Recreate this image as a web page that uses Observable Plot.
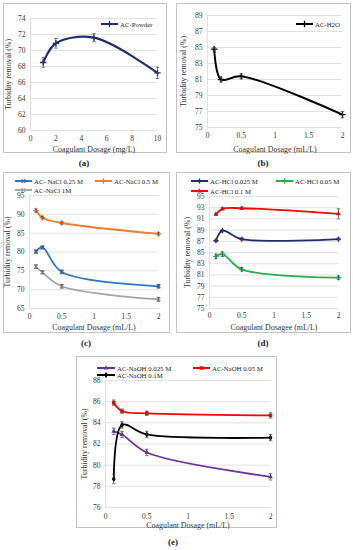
<!DOCTYPE html>
<html><head><meta charset="utf-8">
<script src="https://cdn.jsdelivr.net/npm/d3@7"></script>
<script src="https://cdn.jsdelivr.net/npm/@observablehq/plot@0.6"></script>
<style>
html,body{margin:0;padding:0;background:#fff;}
#root{position:relative;width:353px;height:550px;overflow:hidden;font-family:"Liberation Serif",serif;color:#222;}
.box{position:absolute;border:1px solid #c4c4c4;box-sizing:border-box;}
.cap{position:absolute;font-size:9px;font-weight:bold;transform:translate(-50%,-50%);white-space:nowrap;}
.leg{position:absolute;display:flex;align-items:center;font-size:6.8px;white-space:nowrap;transform:translateY(-50%);}
.leg svg{display:block;margin-right:2px;}
.plot{position:absolute;}
.plot g[aria-label$="axis label"]{font-size:7.9px;}
</style></head><body><div id="root"></div>
<script>
// ---------- data ----------
const doseMg = [1, 2, 5, 10];
const acPowder = [68.5, 70.9, 71.6, 67.2];
const acPowderErr = [0.6, 0.6, 0.5, 0.7];

const doseMl = [0.1, 0.2, 0.5, 2];
const acH2O = [84.8, 81.0, 81.4, 76.6];
const acH2OErr = [0.2, 0.3, 0.3, 0.4];

const nacl025 = [80.1, 81.2, 74.7, 70.9];
const nacl05 = [91.0, 89.1, 87.7, 84.8];
const nacl1 = [76.1, 74.6, 70.9, 67.4];
const nacl025Err = [0.4, 0.4, 0.5, 0.5];
const nacl05Err = [0.4, 0.3, 0.3, 0.3];
const nacl1Err = [0.5, 0.4, 0.5, 0.5];

const hcl0025 = [87.1, 88.9, 87.4, 87.4];
const hcl005 = [84.3, 84.7, 82.0, 80.5];
const hcl01 = [91.8, 92.8, 92.9, 91.9];
const hcl0025Err = [0.2, 0.2, 0.2, 0.2];
const hcl005Err = [0.4, 0.4, 0.3, 0.3];
const hcl01Err = [0.2, 0.2, 0.2, 0.9];

const naoh0025 = [83.2, 82.9, 81.2, 78.9];
const naoh005 = [85.9, 85.1, 84.9, 84.7];
const naoh01 = [78.7, 83.8, 82.9, 82.6];
const naoh0025Err = [0.3, 0.3, 0.3, 0.3];
const naoh005Err = [0.25, 0.2, 0.2, 0.25];
const naoh01Err = [0.45, 0.3, 0.3, 0.3];

// ---------- tick labels ----------
const xTicksMg = [0, 2, 4, 6, 8, 10];
const xTicksMl = [0, 0.5, 1, 1.5, 2];
const yTicksA = [60, 62, 64, 66, 68, 70, 72, 74];
const yTicksB = [75, 77, 79, 81, 83, 85, 87, 89];
const yTicksC = [65, 70, 75, 80, 85, 90, 95];
const yTicksD = [75, 77, 79, 81, 83, 85, 87, 89, 91, 93, 95];
const yTicksE = [76, 78, 80, 82, 84, 86, 88];

const yLabel = "Turbidity removal (%)";

// ---------- helpers ----------
const root = document.getElementById("root");
const fmt = d => String(d);
const capSymbol = {draw(ctx, size) { const w = Math.sqrt(size) / 2; ctx.moveTo(-w, 0); ctx.lineTo(w, 0); }};
const strokeSyms = new Set(["plus", "times"]);
const d3Sym = {plus: d3.symbolPlus, times: d3.symbolTimes, square: d3.symbolSquare, triangle: d3.symbolTriangle, diamond: d3.symbolDiamond, circle: d3.symbolCircle};

function el(tag, cls, style, text) {
  const e = document.createElement(tag);
  if (cls) e.className = cls;
  Object.assign(e.style, style || {});
  if (text != null) e.textContent = text;
  root.appendChild(e);
  return e;
}

function legendItem(s, x1, x2, y) {
  const w = x2 - x1;
  const div = el("div", "leg", {left: x1 + "px", top: y + "px"});
  const ns = "http://www.w3.org/2000/svg";
  const svg = document.createElementNS(ns, "svg");
  svg.setAttribute("width", w); svg.setAttribute("height", 7);
  const line = document.createElementNS(ns, "line");
  line.setAttribute("x1", 0); line.setAttribute("x2", w); line.setAttribute("y1", 3.5); line.setAttribute("y2", 3.5);
  line.setAttribute("stroke", s.color); line.setAttribute("stroke-width", 2);
  svg.appendChild(line);
  const p = document.createElementNS(ns, "path");
  p.setAttribute("d", d3.symbol(d3Sym[s.symbol], Math.PI * s.r * s.r)());
  p.setAttribute("transform", `translate(${w / 2},3.5)`);
  if (strokeSyms.has(s.symbol)) { p.setAttribute("fill", "none"); p.setAttribute("stroke", s.color); p.setAttribute("stroke-width", 1.3); }
  else p.setAttribute("fill", s.color);
  svg.appendChild(p);
  div.appendChild(svg);
  div.appendChild(document.createTextNode(s.name));
}

function drawPanel(p) {
  el("div", "box", {left: p.box[0] + "px", top: p.box[1] + "px", width: p.box[2] + "px", height: p.box[3] + "px"});
  const marks = [
    Plot.ruleY(p.yTicks, {stroke: "#d9d9d9", strokeWidth: 0.8}),
    Plot.ruleX([p.xDomain[0]], {stroke: "#d9d9d9", strokeWidth: 0.8})
  ];
  for (const s of p.series) {
    const data = p.xs.map((x, i) => ({x, y: s.values[i], e: s.err[i]}));
    marks.push(Plot.line(data, {x: "x", y: "y", stroke: s.color, strokeWidth: p.lw, curve: "catmull-rom"}));
    const stroke = strokeSyms.has(s.symbol);
    marks.push(Plot.dot(data, {x: "x", y: "y", symbol: s.symbol, r: s.r,
      fill: stroke ? "none" : s.color, stroke: stroke ? s.color : "none", strokeWidth: 1.3}));
    marks.push(Plot.ruleX(data, {x: "x", y1: d => d.y - d.e, y2: d => d.y + d.e, stroke: "#444", strokeWidth: 0.7}));
    marks.push(Plot.dot(data, {x: "x", y: d => d.y + d.e, symbol: capSymbol, r: 2, fill: "none", stroke: "#444", strokeWidth: 0.7}));
    marks.push(Plot.dot(data, {x: "x", y: d => d.y - d.e, symbol: capSymbol, r: 2, fill: "none", stroke: "#444", strokeWidth: 0.7}));
  }
  const chart = Plot.plot({
    width: p.svg[2], height: p.svg[3],
    marginLeft: p.m[0], marginRight: p.m[1], marginTop: p.m[2], marginBottom: p.m[3],
    x: {domain: p.xDomain, ticks: p.xTicks, tickFormat: fmt, tickSize: 0, tickPadding: p.xPad,
        label: p.xLabel, labelAnchor: "center", labelOffset: p.xLabOff, labelArrow: "none"},
    y: {domain: p.yDomain, ticks: p.yTicks, tickFormat: fmt, tickSize: 0, tickPadding: 5,
        label: yLabel, labelAnchor: "center", labelOffset: p.yLabOff, labelArrow: "none"},
    style: {fontFamily: "Liberation Serif", fontSize: "7.5px", color: "#333", background: "transparent", overflow: "visible"},
    marks
  });
  chart.classList.add("plot");
  chart.style.left = p.svg[0] + "px";
  chart.style.top = p.svg[1] + "px";
  root.appendChild(chart);
  for (const [i, pos] of p.legend.entries()) legendItem(p.series[i], pos[0], pos[1], pos[2]);
  el("div", "cap", {left: p.cap[0] + "px", top: p.cap[1] + "px"}, p.capText);
}

// (a)
drawPanel({
  box: [3, 3, 164, 150], svg: [3, 3, 164, 150], m: [27, 10, 15, 23],
  xs: doseMg, xDomain: [0, 10], xTicks: xTicksMg, yDomain: [60, 74], yTicks: yTicksA,
  xLabel: "Coagulant Dosage (mg/L)", xPad: 5, xLabOff: 21, yLabOff: 25, lw: 2.2,
  series: [{name: "AC-Powder", values: acPowder, err: acPowderErr, color: "#1f2d6e", symbol: "plus", r: 2.2}],
  legend: [[101, 118, 24]], cap: [84, 163], capText: "(a)"
});
// (b)
drawPanel({
  box: [176, 3, 175, 150], svg: [176, 3, 175, 150], m: [31, 9, 12, 26],
  xs: doseMl, xDomain: [0, 2], xTicks: xTicksMl, yDomain: [75, 89], yTicks: yTicksB,
  xLabel: "Coagulant Dosage (mL/L)", xPad: 5.5, xLabOff: 24, yLabOff: 27, lw: 2,
  series: [{name: "AC-H2O", values: acH2O, err: acH2OErr, color: "#000", symbol: "plus", r: 2.2}],
  legend: [[296, 313, 24]], cap: [263, 163], capText: "(b)"
});
// (c)
drawPanel({
  box: [3, 172, 167, 161], svg: [3, 172, 167, 161], m: [26, 12, 23, 25],
  xs: doseMl, xDomain: [0, 2], xTicks: xTicksMl, yDomain: [65, 95], yTicks: yTicksC,
  xLabel: "Coagulant Dosage (mL/L)", xPad: 5, xLabOff: 21, yLabOff: 25, lw: 1.8,
  series: [
    {name: "AC- NaCl 0.25 M", values: nacl025, err: nacl025Err, color: "#2e75c8", symbol: "times", r: 1.8},
    {name: "AC-NaCl 0.5 M", values: nacl05, err: nacl05Err, color: "#f07c2c", symbol: "plus", r: 2},
    {name: "AC-NaCl 1M", values: nacl1, err: nacl1Err, color: "#a5a5a5", symbol: "times", r: 1.8}
  ],
  legend: [[15, 32, 181], [95, 112, 181], [15, 32, 190]], cap: [86, 343], capText: "(c)"
});
// (d)
drawPanel({
  box: [176, 172, 175, 161], svg: [176, 172, 175, 161], m: [33, 13, 24, 25],
  xs: doseMl, xDomain: [0, 2], xTicks: xTicksMl, yDomain: [75, 95], yTicks: yTicksD,
  xLabel: "Coagulant Dosagee (mL/L)", xPad: 4.5, xLabOff: 21, yLabOff: 25, lw: 1.8,
  series: [
    {name: "AC-HCl 0.025 M", values: hcl0025, err: hcl0025Err, color: "#1f2d6e", symbol: "plus", r: 1.8},
    {name: "AC-HCl 0.05 M", values: hcl005, err: hcl005Err, color: "#22b14c", symbol: "plus", r: 2},
    {name: "AC-HCl 0.1 M", values: hcl01, err: hcl01Err, color: "#ff0000", symbol: "triangle", r: 1.8}
  ],
  legend: [[191, 208, 181], [276, 293, 181], [191, 208, 191]], cap: [263, 343], capText: "(d)"
});
// (e)
drawPanel({
  box: [76, 356, 201, 172], svg: [76, 356, 201, 172], m: [29, 7, 24, 21],
  xs: doseMl, xDomain: [0, 2], xTicks: xTicksMl, yDomain: [76, 88], yTicks: yTicksE,
  xLabel: "Coagulant Dosage (mL/L)", xPad: 6.5, xLabOff: 20.5, yLabOff: 24, lw: 1.8,
  series: [
    {name: "AC-NaOH 0.025 M", values: naoh0025, err: naoh0025Err, color: "#7030a0", symbol: "triangle", r: 1.8},
    {name: "AC-NaOH 0.05 M", values: naoh005, err: naoh005Err, color: "#ff0000", symbol: "square", r: 2},
    {name: "AC-NaOH 0.1M", values: naoh01, err: naoh01Err, color: "#000", symbol: "diamond", r: 2}
  ],
  legend: [[97, 115, 368], [193, 210, 368], [97, 115, 375]], cap: [173, 542], capText: "(e)"
});
</script></body></html>
